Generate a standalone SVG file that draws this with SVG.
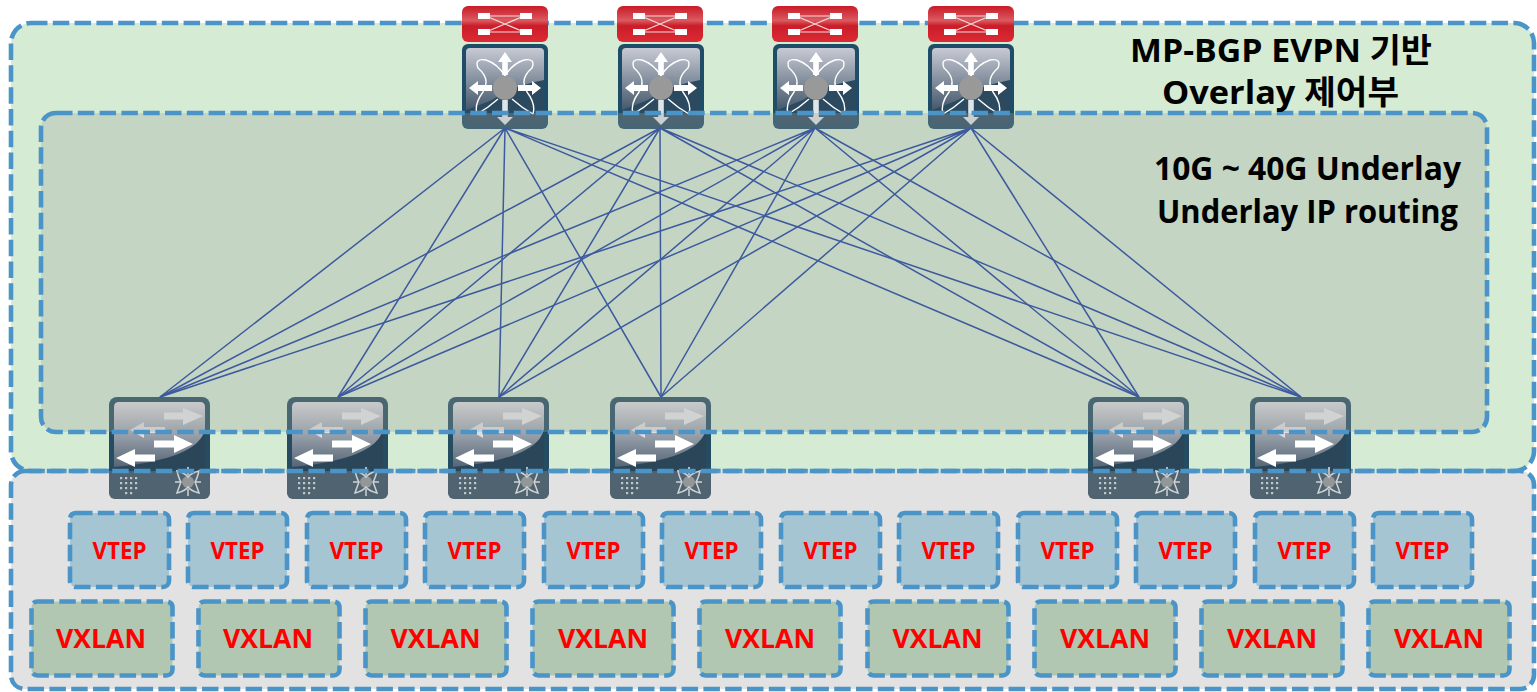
<svg xmlns="http://www.w3.org/2000/svg" xmlns:xlink="http://www.w3.org/1999/xlink" width="1537" height="692" viewBox="0 0 1537 692">
<style>
.dash{stroke:#4a94c8;stroke-width:4.6;stroke-dasharray:16.5 5.3;stroke-linejoin:round}
.wire{stroke:#3d5a9e;stroke-width:1.5;fill:none}
.t{font-family:"Open Sans","Noto Sans CJK KR",sans-serif;font-weight:700;text-anchor:middle}
.head{fill:#000;font-size:33px}
.vtep{fill:#f00;font-size:23px}
.vxlan{fill:#f00;font-size:27px}
.bvtep{fill:#a6c5d3}
.bvxlan{fill:#b1c7b1}
.wl{stroke:#fff;fill:none}
.wf{fill:#fff}
</style>
<defs>
<linearGradient id="gs" x1="0" y1="0" x2="0" y2="1"><stop offset="0" stop-color="#c8cad4"/><stop offset="1" stop-color="#44596c"/></linearGradient>
<linearGradient id="gl" x1="0" y1="0" x2="0" y2="1"><stop offset="0" stop-color="#dcdce0"/><stop offset="1" stop-color="#566676"/></linearGradient>
<linearGradient id="gr" x1="0" y1="0" x2="0" y2="1"><stop offset="0" stop-color="#c81a26"/><stop offset=".4" stop-color="#dc5a60"/><stop offset=".55" stop-color="#c91d29"/><stop offset="1" stop-color="#dc2a34"/></linearGradient>
<symbol id="router" width="86" height="36" viewBox="0 0 86 36" overflow="visible">
<rect width="86" height="36" rx="6" fill="url(#gr)"/>
<path d="M20 10H66M20 26H66M24 10L62 26M62 10L24 26" stroke="#f6dcdc" stroke-width="1.200" fill="none"/>
<rect class="wf" x="16" y="7" width="12" height="6"/><rect class="wf" x="58" y="7" width="12" height="6"/>
<rect class="wf" x="16" y="23" width="12" height="6"/><rect class="wf" x="58" y="23" width="12" height="6"/>
</symbol>
<symbol id="spine" width="86" height="85" viewBox="0 0 86 85" overflow="visible">
<rect width="86" height="85" rx="6" fill="#1f4d68"/>
<rect x="4" y="4" width="78" height="77" rx="4" fill="#2b4a60"/>
<path d="M4 8Q4 4 8 4H78Q82 4 82 8V36Q50 42 30 56Q15 62 4 66Z" fill="url(#gs)"/>
<path class="wl" stroke-width="1.400" d="M15 70Q12 60 21 48Q29 35 16 24Q12 14 24 16Q36 20 43 32Q50 20 62 16Q74 14 70 24Q57 35 65 48Q74 60 71 70M15 70Q26 64 36 55M71 70Q60 64 50 55"/>
<circle cx="43" cy="44" r="12" fill="#999"/>
<g class="wf">
<path d="M43 8L50 18H45.800V31H40.200V18H36Z"/>
<path d="M7 44L16 37V41H30V47H16V51Z"/>
<path d="M79 44L70 37V41H56V47H70V51Z"/>
<path d="M43 81L35 73H40.200V56H45.800V73H51Z" opacity=".85"/>
</g>
</symbol>
<symbol id="leaf" width="101" height="102" viewBox="0 0 101 102" overflow="visible">
<rect width="101" height="102" rx="8" fill="#264c62"/>
<rect x="5" y="5" width="91" height="71" rx="4" fill="#2b4658"/>
<path d="M5 10Q5 5 10 5H91Q96 5 96 10V32Q90 62 5 70Z" fill="url(#gl)"/>
<rect x="0" y="75" width="101" height="27" rx="6" fill="#2f4a5c"/>
<g class="wf">
<path d="M94 19L74 11V15.500H55V22.500H74V28Z" fill="#e8e8ea"/>
<path d="M21 33L35 25V30H56V36H35V41Z" fill="#dfdfe3"/>
<path d="M84 47L65 38V43.500H45V50.500H65V56Z"/>
<path d="M7 61L26 52V57.500H46V64.500H26V70Z"/>
</g>
<g fill="#d4d9dc"><rect x="11" y="80" width="2.200" height="2.200"/><rect x="16" y="80" width="2.200" height="2.200"/><rect x="21" y="80" width="2.200" height="2.200"/><rect x="26" y="80" width="2.200" height="2.200"/><rect x="11" y="85" width="2.200" height="2.200"/><rect x="16" y="85" width="2.200" height="2.200"/><rect x="21" y="85" width="2.200" height="2.200"/><rect x="26" y="85" width="2.200" height="2.200"/><rect x="11" y="90" width="2.200" height="2.200"/><rect x="16" y="90" width="2.200" height="2.200"/><rect x="21" y="90" width="2.200" height="2.200"/><rect x="26" y="90" width="2.200" height="2.200"/><rect x="16" y="95" width="2.200" height="2.200"/><rect x="21" y="95" width="2.200" height="2.200"/></g>
<circle cx="79" cy="85" r="6" fill="#8e9496"/>
<path stroke="#e6e9ea" stroke-width="1.500" fill="none" d="M79 70V78M79 92V99M66 85H72M86 85H92M68 74Q76 76 79 80Q82 76 90 74Q88 82 86 85Q88 90 90 96Q82 94 79 90Q76 94 68 96Q70 90 72 85Q70 82 68 74Z"/>
</symbol>
</defs>
<g id="region-overlay"><rect x="11" y="23" width="1523" height="448" rx="20" fill="#d6ebd4" class="dash"/></g>
<g id="spine-1"><use xlink:href="#router" href="#router" x="462" y="6"/><use xlink:href="#spine" href="#spine" x="462" y="44"/></g>
<g id="spine-2"><use xlink:href="#router" href="#router" x="617" y="6"/><use xlink:href="#spine" href="#spine" x="618" y="44"/></g>
<g id="spine-3"><use xlink:href="#router" href="#router" x="772" y="6"/><use xlink:href="#spine" href="#spine" x="773" y="44"/></g>
<g id="spine-4"><use xlink:href="#router" href="#router" x="928" y="6"/><use xlink:href="#spine" href="#spine" x="928" y="44"/></g>
<g id="leaf-1"><use xlink:href="#leaf" href="#leaf" x="109" y="397"/></g>
<g id="leaf-2"><use xlink:href="#leaf" href="#leaf" x="287" y="397"/></g>
<g id="leaf-3"><use xlink:href="#leaf" href="#leaf" x="448" y="397"/></g>
<g id="leaf-4"><use xlink:href="#leaf" href="#leaf" x="610" y="397"/></g>
<g id="leaf-5"><use xlink:href="#leaf" href="#leaf" x="1088" y="397"/></g>
<g id="leaf-6"><use xlink:href="#leaf" href="#leaf" x="1250" y="397"/></g>
<g id="region-underlay"><rect x="41" y="113" width="1446" height="319" rx="15" fill="#9da19b" fill-opacity=".3" class="dash"/></g>
<g id="region-host"><rect x="11" y="471" width="1523" height="218" rx="14" fill="#9e9e9e" fill-opacity=".3" class="dash"/></g>
<g id="connectors" class="wire">
<path d="M505 128L160 397M505 128L338 397M505 128L499 397M505 128L661 397M505 128L1139 397M505 128L1301 397"/>
<path d="M660 128L160 397M660 128L338 397M660 128L499 397M660 128L661 397M660 128L1139 397M660 128L1301 397"/>
<path d="M815 128L160 397M815 128L338 397M815 128L499 397M815 128L661 397M815 128L1139 397M815 128L1301 397"/>
<path d="M971 128L160 397M971 128L338 397M971 128L499 397M971 128L661 397M971 128L1139 397M971 128L1301 397"/>
</g>
<g id="labels">
<text class="t head" x="1281" y="62" textLength="302" lengthAdjust="spacingAndGlyphs">MP-BGP EVPN 기반</text>
<text class="t head" x="1280.500" y="104" textLength="237" lengthAdjust="spacingAndGlyphs">Overlay 제어부</text>
<text class="t head" x="1307.500" y="180" textLength="307" lengthAdjust="spacingAndGlyphs">10G ~ 40G Underlay</text>
<text class="t head" x="1307.500" y="223" textLength="301" lengthAdjust="spacingAndGlyphs">Underlay IP routing</text>
</g>
<g id="vtep-1"><rect class="dash bvtep" x="70" y="513" width="99" height="74" rx="6"/><text class="t vtep" x="119.500" y="559" textLength="54" lengthAdjust="spacingAndGlyphs">VTEP</text></g>
<g id="vtep-2"><rect class="dash bvtep" x="188" y="513" width="99" height="74" rx="6"/><text class="t vtep" x="237.500" y="559" textLength="54" lengthAdjust="spacingAndGlyphs">VTEP</text></g>
<g id="vtep-3"><rect class="dash bvtep" x="307" y="513" width="99" height="74" rx="6"/><text class="t vtep" x="356.500" y="559" textLength="54" lengthAdjust="spacingAndGlyphs">VTEP</text></g>
<g id="vtep-4"><rect class="dash bvtep" x="425" y="513" width="99" height="74" rx="6"/><text class="t vtep" x="474.500" y="559" textLength="54" lengthAdjust="spacingAndGlyphs">VTEP</text></g>
<g id="vtep-5"><rect class="dash bvtep" x="544" y="513" width="99" height="74" rx="6"/><text class="t vtep" x="593.500" y="559" textLength="54" lengthAdjust="spacingAndGlyphs">VTEP</text></g>
<g id="vtep-6"><rect class="dash bvtep" x="662" y="513" width="99" height="74" rx="6"/><text class="t vtep" x="711.500" y="559" textLength="54" lengthAdjust="spacingAndGlyphs">VTEP</text></g>
<g id="vtep-7"><rect class="dash bvtep" x="781" y="513" width="99" height="74" rx="6"/><text class="t vtep" x="830.500" y="559" textLength="54" lengthAdjust="spacingAndGlyphs">VTEP</text></g>
<g id="vtep-8"><rect class="dash bvtep" x="899" y="513" width="99" height="74" rx="6"/><text class="t vtep" x="948.500" y="559" textLength="54" lengthAdjust="spacingAndGlyphs">VTEP</text></g>
<g id="vtep-9"><rect class="dash bvtep" x="1018" y="513" width="99" height="74" rx="6"/><text class="t vtep" x="1067.500" y="559" textLength="54" lengthAdjust="spacingAndGlyphs">VTEP</text></g>
<g id="vtep-10"><rect class="dash bvtep" x="1136" y="513" width="99" height="74" rx="6"/><text class="t vtep" x="1185.500" y="559" textLength="54" lengthAdjust="spacingAndGlyphs">VTEP</text></g>
<g id="vtep-11"><rect class="dash bvtep" x="1255" y="513" width="99" height="74" rx="6"/><text class="t vtep" x="1304.500" y="559" textLength="54" lengthAdjust="spacingAndGlyphs">VTEP</text></g>
<g id="vtep-12"><rect class="dash bvtep" x="1373" y="513" width="99" height="74" rx="6"/><text class="t vtep" x="1422.500" y="559" textLength="54" lengthAdjust="spacingAndGlyphs">VTEP</text></g>
<g id="vxlan-1"><rect class="dash bvxlan" x="31.500" y="601.500" width="141" height="74" rx="6"/><text class="t vxlan" x="101" y="648" textLength="90" lengthAdjust="spacingAndGlyphs">VXLAN</text></g>
<g id="vxlan-2"><rect class="dash bvxlan" x="198.500" y="601.500" width="141" height="74" rx="6"/><text class="t vxlan" x="268" y="648" textLength="90" lengthAdjust="spacingAndGlyphs">VXLAN</text></g>
<g id="vxlan-3"><rect class="dash bvxlan" x="365.500" y="601.500" width="141" height="74" rx="6"/><text class="t vxlan" x="435.500" y="648" textLength="90" lengthAdjust="spacingAndGlyphs">VXLAN</text></g>
<g id="vxlan-4"><rect class="dash bvxlan" x="532.500" y="601.500" width="141" height="74" rx="6"/><text class="t vxlan" x="603" y="648" textLength="90" lengthAdjust="spacingAndGlyphs">VXLAN</text></g>
<g id="vxlan-5"><rect class="dash bvxlan" x="699.500" y="601.500" width="141" height="74" rx="6"/><text class="t vxlan" x="770" y="648" textLength="90" lengthAdjust="spacingAndGlyphs">VXLAN</text></g>
<g id="vxlan-6"><rect class="dash bvxlan" x="867.500" y="601.500" width="141" height="74" rx="6"/><text class="t vxlan" x="937.500" y="648" textLength="90" lengthAdjust="spacingAndGlyphs">VXLAN</text></g>
<g id="vxlan-7"><rect class="dash bvxlan" x="1034.500" y="601.500" width="141" height="74" rx="6"/><text class="t vxlan" x="1105" y="648" textLength="90" lengthAdjust="spacingAndGlyphs">VXLAN</text></g>
<g id="vxlan-8"><rect class="dash bvxlan" x="1201.500" y="601.500" width="141" height="74" rx="6"/><text class="t vxlan" x="1272" y="648" textLength="90" lengthAdjust="spacingAndGlyphs">VXLAN</text></g>
<g id="vxlan-9"><rect class="dash bvxlan" x="1368.500" y="601.500" width="141" height="74" rx="6"/><text class="t vxlan" x="1439" y="648" textLength="90" lengthAdjust="spacingAndGlyphs">VXLAN</text></g>
</svg>
